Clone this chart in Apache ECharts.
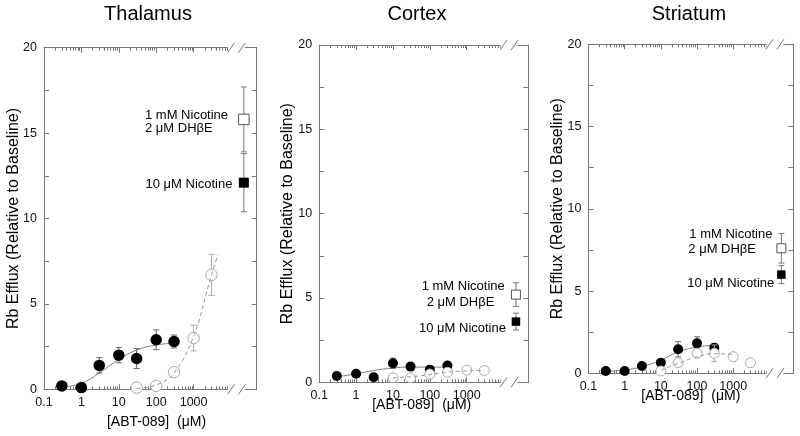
<!DOCTYPE html>
<html>
<head>
<meta charset="utf-8">
<script src="https://cdn.jsdelivr.net/npm/echarts@6/dist/echarts.min.js"></script>
<style>
  html, body { margin: 0; background: #fff; }
  #chart { width: 800px; height: 436px; }
</style>
</head>
<body>
<div id="chart"></div>
<script>
// ---- data ----
const panelTitles = ['Thalamus', 'Cortex', 'Striatum']
const xTickLabels = ['0.1', '1', '10', '100', '1000']
const xName = '[ABT-089]  (μM)'
const yName = 'Rb Efflux (Relative to Baseline)'
const ctrlNames = ['1 mM Nicotine', '2 μM DHβE', '10 μM Nicotine']

// ABT-089 alone (filled circles), uM
const abtConc = [0.3, 1, 3, 10, 30, 100, 300]
// ABT-089 + nicotine (open circles)
const openConcThal = [30, 100, 300, 1000, 3000]
const openConc = [10, 30, 100, 300, 1000, 3000]

const thalAbt = [0.2, 0.1, 1.4, 2.0, 1.8, 2.9, 2.8]
const thalAbtErr = [0.1, 0.1, 0.45, 0.45, 0.58, 0.58, 0.38]
const thalOpen = [0.1, 0.2, 1.0, 3.0, 6.7]
const thalOpenErr = [0.1, 0.15, 0.2, 0.75, 1.2]
const thalFit = [0.12, 0.35, 0.95, 1.75, 2.3, 2.6, 2.7]
const thalDashConc = [30, 100, 300, 1000, 3000, 4500]
const thalDash = [0.05, 0.25, 0.95, 3.1, 6.7, 7.9]
const thalCtrl = [15.8, 12.1]     // open square, filled square
const thalCtrlErr = [1.9, 1.7]

const ctxAbt = [0.37, 0.51, 0.3, 1.13, 0.93, 0.75, 0.99]
const ctxAbtErr = [0.1, 0.1, 0.1, 0.3, 0.2, 0.15, 0.15]
const ctxOpen = [0.27, 0.27, 0.49, 0.6, 0.72, 0.7]
const ctxOpenErr = [0.1, 0.1, 0.1, 0.15, 0.1, 0.1]
const ctxFit = [0.33, 0.5, 0.7, 0.85, 0.9, 0.9, 0.9]
const ctxDashConc = [10, 30, 100, 300, 1000, 3000]
const ctxDash = [0.28, 0.33, 0.45, 0.6, 0.68, 0.7]
const ctxCtrl = [5.2, 3.6]
const ctxCtrlErr = [0.7, 0.5]

const strAbt = [0.14, 0.14, 0.44, 0.64, 1.46, 1.82, 1.56]
const strAbtErr = [0.05, 0.05, 0.1, 0.15, 0.46, 0.4, 0.2]
const strOpen = [0.14, 0.64, 1.22, 1.22, 1.01, 0.64]
const strOpenErr = [0.1, 0.1, 0.2, 0.5, 0.15, 0.1]
const strFit = [0.12, 0.2, 0.4, 0.8, 1.3, 1.6, 1.7]
const strDashConc = [10, 30, 100, 300, 1000]
const strDash = [0.2, 0.6, 1.0, 1.2, 1.15]
const strCtrl = [7.6, 6.0]
const strCtrlErr = [0.9, 0.55]

const panels = [
  { abt: thalAbt, abtErr: thalAbtErr, oConc: openConcThal, open: thalOpen, openErr: thalOpenErr,
    fit: thalFit, dConc: thalDashConc, dash: thalDash, ctrl: thalCtrl, ctrlErr: thalCtrlErr },
  { abt: ctxAbt, abtErr: ctxAbtErr, oConc: openConc, open: ctxOpen, openErr: ctxOpenErr,
    fit: ctxFit, dConc: ctxDashConc, dash: ctxDash, ctrl: ctxCtrl, ctrlErr: ctxCtrlErr },
  { abt: strAbt, abtErr: strAbtErr, oConc: openConc, open: strOpen, openErr: strOpenErr,
    fit: strFit, dConc: strDashConc, dash: strDash, ctrl: strCtrl, ctrlErr: strCtrlErr }
]

// ---- layout (pixels) ----
const layout = [
  { left: 44, mid: 231, right: 256.7, top: 47.7, bottom: 389.3, sym: 11.5, titleX: 148, yNameX: 14, xNameX: 156.5, xNameY: 422,
    notes: [[145, 115], [145, 128.5], [145.5, 184.3]] },
  { left: 319.2, mid: 503.6, right: 528.3, top: 45, bottom: 382.3, sym: 10, titleX: 417, yNameX: 288, xNameX: 421.7, xNameY: 405,
    notes: [[421.7, 286.5], [426.7, 302], [419, 328.3]] },
  { left: 588.5, mid: 769.4, right: 793.3, top: 44.3, bottom: 373.3, sym: 10, titleX: 689, yNameX: 558, xNameX: 690.8, xNameY: 396,
    notes: [[689.3, 234.3], [688.3, 249.3], [687.3, 283.3]] }
]

const FONT = "'Liberation Sans', Arial, Helvetica, sans-serif"
const AXIS = '#777'

const zip = (xs, ys) => xs.map((x, i) => [x, ys[i]])
const zip3 = (xs, ys, es) => xs.map((x, i) => [x, ys[i], es[i]])

function errBars (params, api) {
  const x = api.value(0), y = api.value(1), e = api.value(2)
  const lo = api.coord([x, y - e]), hi = api.coord([x, y + e])
  const style = { stroke: api.visual('color'), lineWidth: 1 }
  const cap = 3
  return {
    type: 'group',
    children: [
      { type: 'line', shape: { x1: lo[0], y1: lo[1], x2: hi[0], y2: hi[1] }, style },
      { type: 'line', shape: { x1: lo[0] - cap, y1: lo[1], x2: lo[0] + cap, y2: lo[1] }, style },
      { type: 'line', shape: { x1: hi[0] - cap, y1: hi[1], x2: hi[0] + cap, y2: hi[1] }, style }
    ]
  }
}

const option = {
  animation: false,
  backgroundColor: '#fff',
  textStyle: { fontFamily: FONT },
  grid: [], xAxis: [], yAxis: [], series: [], graphic: []
}

const lineStyle = { color: AXIS, width: 1 }

panels.forEach((d, p) => {
  const L = layout[p]
  const h = L.bottom - L.top
  option.grid.push({ left: L.left, top: L.top, width: L.mid - L.left, height: h, outerBoundsMode: 'none' })
  option.grid.push({ left: L.mid, top: L.top, width: L.right - L.mid, height: h, outerBoundsMode: 'none' })

  ;['bottom', 'top'].forEach(pos => {
    option.xAxis.push({
      type: 'log', logBase: 10, gridIndex: 2 * p, position: pos,
      min: 0.1, max: 10000, splitNumber: 5,
      axisLine: { show: true, onZero: false, lineStyle },
      axisTick: { show: true, inside: true, length: 5, lineStyle },
      minorTick: { show: true, splitNumber: 9, length: 3, lineStyle },
      axisLabel: {
        show: pos === 'bottom', margin: 7, fontSize: 12.5, color: '#111',
        formatter: (v, i) => xTickLabels[i] || ''
      },
      splitLine: { show: false }
    })
  })
  ;['bottom', 'top'].forEach(pos => {
    option.xAxis.push({
      type: 'category', gridIndex: 2 * p + 1, position: pos, data: ['ctrl'],
      axisLine: { show: true, onZero: false, lineStyle },
      axisTick: { show: false }, axisLabel: { show: false }, splitLine: { show: false }
    })
  })
  ;['left', 'right'].forEach((pos, k) => {
    option.yAxis.push({
      type: 'value', gridIndex: 2 * p + k, position: pos,
      min: 0, max: 20, interval: 2.5,
      axisLine: { show: true, onZero: false, lineStyle },
      axisTick: { show: true, inside: true, length: 5, lineStyle },
      axisLabel: {
        show: k === 0, margin: 7, fontSize: 12.5, color: '#111',
        formatter: v => (v % 5 === 0 ? String(v) : '')
      },
      splitLine: { show: false }
    })
  })

  const xi = 4 * p, yi = 2 * p, cxi = 4 * p + 2, cyi = 2 * p + 1

  option.series.push(
    { type: 'line', xAxisIndex: xi, yAxisIndex: yi, data: zip(abtConc, d.fit), smooth: 0.4,
      showSymbol: false, lineStyle: { color: '#808080', width: 1 }, z: 1 },
    { type: 'custom', xAxisIndex: xi, yAxisIndex: yi, data: zip3(abtConc, d.abt, d.abtErr),
      renderItem: errBars, itemStyle: { color: '#666' }, z: 2 },
    { type: 'scatter', xAxisIndex: xi, yAxisIndex: yi, data: zip(abtConc, d.abt),
      symbol: 'circle', symbolSize: L.sym, itemStyle: { color: '#000', opacity: 1 }, z: 3 },
    { type: 'custom', xAxisIndex: xi, yAxisIndex: yi, data: zip3(d.oConc, d.open, d.openErr),
      renderItem: errBars, itemStyle: { color: '#aaa' }, z: 4 },
    { type: 'scatter', xAxisIndex: xi, yAxisIndex: yi, data: zip(d.oConc, d.open),
      symbol: 'circle', symbolSize: L.sym,
      itemStyle: { color: '#fff', borderColor: '#aaa', borderWidth: 1, opacity: 1 }, z: 5 },
    { type: 'line', xAxisIndex: xi, yAxisIndex: yi, data: zip(d.dConc, d.dash), smooth: 0.4,
      showSymbol: false, lineStyle: { color: '#999', width: 1, type: [4, 3] }, z: 6 },
    { type: 'custom', xAxisIndex: cxi, yAxisIndex: cyi,
      data: [[0, d.ctrl[0], d.ctrlErr[0]], [0, d.ctrl[1], d.ctrlErr[1]]],
      renderItem: errBars, itemStyle: { color: '#777' }, z: 2 },
    { type: 'scatter', xAxisIndex: cxi, yAxisIndex: cyi, data: [[0, d.ctrl[0]]],
      symbol: 'rect', symbolSize: L.sym - 1,
      itemStyle: { color: '#fff', borderColor: '#555', borderWidth: 1, opacity: 1 }, z: 5 },
    { type: 'scatter', xAxisIndex: cxi, yAxisIndex: cyi, data: [[0, d.ctrl[1]]],
      symbol: 'rect', symbolSize: L.sym - 1.5, itemStyle: { color: '#000', opacity: 1 }, z: 5 }
  )

  // title, axis names, control notes
  option.graphic.push(
    { type: 'text', x: L.titleX, y: 14, z: 50,
      style: { text: panelTitles[p], font: `20px ${FONT}`, fill: '#000', textAlign: 'center', textVerticalAlign: 'middle' } },
    { type: 'text', x: L.xNameX, y: L.xNameY, z: 50,
      style: { text: xName, font: `14px ${FONT}`, fill: '#000', textAlign: 'center', textVerticalAlign: 'middle' } },
    { type: 'text', x: L.yNameX, y: (L.top + L.bottom) / 2, rotation: Math.PI / 2, z: 50,
      style: { text: yName, font: `16px ${FONT}`, fill: '#000', textAlign: 'center', textVerticalAlign: 'middle' } }
  )
  ctrlNames.forEach((t, k) => {
    option.graphic.push({ type: 'text', x: L.notes[k][0], y: L.notes[k][1], z: 50,
      style: { text: t, font: `13px ${FONT}`, fill: '#000', textAlign: 'left', textVerticalAlign: 'middle' } })
  })

  // axis break marks on top and bottom frame lines
  ;[L.top, L.bottom].forEach(yy => {
    option.graphic.push(
      { type: 'rect', z: 60, shape: { x: L.mid - 3, y: yy - 6, width: 17, height: 12 }, style: { fill: '#fff' } },
      { type: 'line', z: 61, shape: { x1: L.mid - 3.5, y1: yy + 5, x2: L.mid + 3.5, y2: yy - 5 }, style: { stroke: AXIS, lineWidth: 1 } },
      { type: 'line', z: 61, shape: { x1: L.mid + 7.5, y1: yy + 5, x2: L.mid + 14.5, y2: yy - 5 }, style: { stroke: AXIS, lineWidth: 1 } }
    )
  })
})

const chart = echarts.init(document.getElementById('chart'))
chart.setOption(option)
</script>
</body>
</html>
